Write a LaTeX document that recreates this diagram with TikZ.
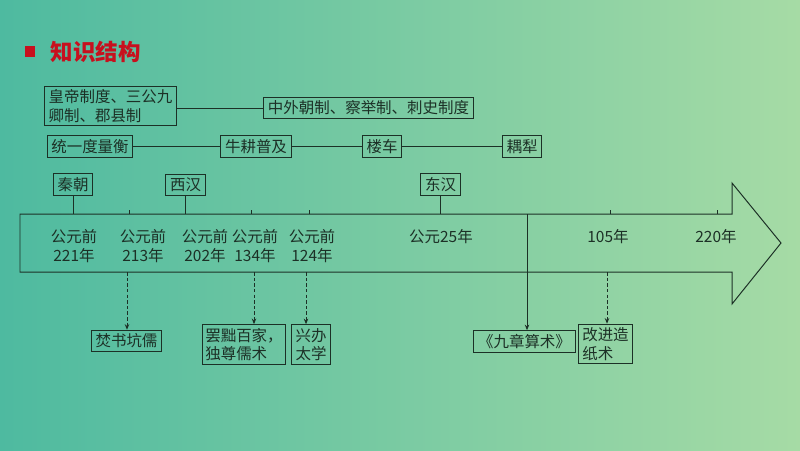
\documentclass[tikz,border=0pt]{standalone}
\usepackage{fontspec}
\setmainfont{Noto Sans CJK SC}
\usepackage{xcolor}
\usetikzlibrary{arrows.meta,positioning}
\definecolor{bgleft}{RGB}{78,186,160}
\definecolor{bgright}{RGB}{166,219,165}
\definecolor{ink}{RGB}{28,48,38}
\definecolor{titlered}{RGB}{200,16,30}

\begin{document}
\begin{tikzpicture}[
  x=0.025cm, y=-0.025cm,
  box/.style={draw=ink, line width=0.7pt, align=left, text=ink, font=\fontsize{11}{13}\selectfont, inner xsep=3pt, inner ysep=2.5pt},
  yearlbl/.style={align=center, text=ink, font=\fontsize{11}{13.5}\selectfont},
  link/.style={draw=ink, line width=0.7pt},
  arr/.style={link, -{Stealth[length=4pt,width=3.2pt]}},
  dasharr/.style={arr, dash pattern=on 2.5pt off 1.5pt}
]
  % background and title
  \shade[left color=bgleft, right color=bgright] (0,0) rectangle (800,450);
  \fill[titlered] (25,46) rectangle (35,57);
  \node[anchor=west, text=titlered, font=\fontsize{16}{18}\selectfont\bfseries] (title) at (46,52) {知识结构};

  % rows above the time line
  \node[box] (huangdi) at (110.5,106) {皇帝制度、三公九\\卿制、郡县制};
  \node[box] (zhongwai) at (368.5,108) {中外朝制、察举制、刺史制度};
  \node[box] (tongyi) at (90,146.5) {统一度量衡};
  \node[box] (niugeng) at (256,146.5) {牛耕普及};
  \node[box] (louche) at (382,146.5) {楼车};
  \node[box] (ouli) at (522,146.5) {耦犁};

  \draw[link] (huangdi.east |- zhongwai) -- (zhongwai);
  \draw[link] (tongyi) -- (niugeng) -- (louche) -- (ouli);

  % dynasties
  \node[box] (qin) at (73,184.5) {秦朝};
  \node[box] (xihan) at (185.5,184.5) {西汉};
  \node[box] (donghan) at (440.5,184.5) {东汉};

  % the time line arrow
  \coordinate (top) at (20,214);
  \coordinate (bot) at (20,272);
  \draw[link] (top) -- (732,214) -- (732,183) -- (781,243) -- (732,304) -- (732,272) -- (bot) -- cycle;
  \foreach \x in {129,251,309,610,717}
    \draw[link] (\x,214) -- (\x,210);

  \draw[link] (qin) -- (qin |- top);
  \draw[link] (xihan) -- (xihan |- top);
  \draw[link] (donghan) -- (donghan |- top);

  % dates
  \node[yearlbl] (y221) at (74,246.5) {公元前\\221年};
  \node[yearlbl] (y213) at (143,246.5) {公元前\\213年};
  \node[yearlbl] (y202) at (205,246.5) {公元前\\202年};
  \node[yearlbl] (y134) at (255,246.5) {公元前\\134年};
  \node[yearlbl] (y124) at (312,246.5) {公元前\\124年};
  \node[yearlbl] (y25) at (441,237) {公元25年};
  \node[yearlbl] (y105) at (608,237) {105年};
  \node[yearlbl] (y220) at (716,237) {220年};

  % events below
  \node[box] (fenshu) at (126.5,341) {焚书坑儒};
  \node[box, inner xsep=2pt] (bachu) at (244,344.5) {罢黜百家，\\独尊儒术};
  \node[box] (xingban) at (311,344.5) {兴办\\太学};
  \node[box] (jiuzhang) at (524.5,341.5) {《九章算术》};
  \node[box] (zaozhi) at (605.5,344) {改进造\\纸术};

  \coordinate (b213) at (127,272);
  \coordinate (b134) at (254,272);
  \coordinate (b124) at (306,272);
  \coordinate (b105) at (607,272);
  \coordinate (c25) at (527,214);

  \draw[dasharr] (b213) -- (b213 |- fenshu.north);
  \draw[dasharr] (b134) -- (b134 |- bachu.north);
  \draw[dasharr] (b124) -- (b124 |- xingban.north);
  \draw[dasharr] (b105) -- (b105 |- zaozhi.north);
  \draw[arr] (c25) -- (c25 |- jiuzhang.north);
\end{tikzpicture}
\end{document}
